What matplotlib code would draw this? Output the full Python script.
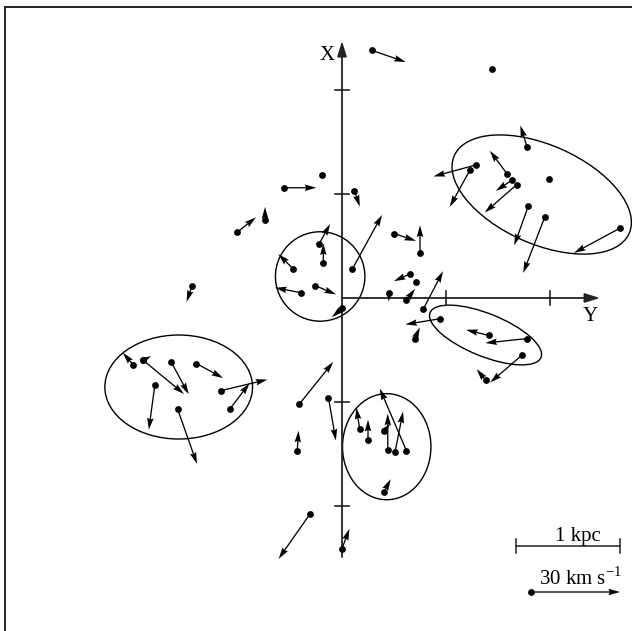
import numpy as np
import matplotlib
matplotlib.use("Agg")
import matplotlib.pyplot as plt
from matplotlib.patches import Ellipse

plt.rcParams['font.family'] = 'serif'
plt.rcParams['font.serif'] = ['Liberation Serif', 'DejaVu Serif']
plt.rcParams['mathtext.fontset'] = 'custom'
plt.rcParams['mathtext.rm'] = 'Liberation Serif'

# star positions in kpc (horizontal = Y, vertical = X) and velocities in km/s
pos_y = [0.29, 1.44, 1.78, 1.29, 1.23, 1.59, 1.63, 1.68, 1.99, 1.79,
         1.95, 2.67, -0.19, -0.56, 0.12, -0.74, -1.01, -1.44, -0.18, -0.22,
         -0.47, -0.39, -0.26, 0.00, 0.10, 0.50, 0.75, 0.65, 0.71, 0.62,
         0.45, 0.78, 0.94, 0.70, 1.41, 1.78, 1.73, 1.38, -2.01, -1.91,
         -1.91, -1.64, -1.40, -1.80, -1.16, -1.08, -1.58, -0.41, -0.43, -0.31,
         -0.13, 0.17, 0.25, 0.40, 0.44, 0.51, 0.62, 0.40, 0.00]
pos_x = [2.38, 2.20, 1.45, 1.28, 1.23, 1.19, 1.13, 1.09, 1.14, 0.88,
         0.78, 0.67, 1.18, 1.06, 1.03, 0.75, 0.63, 0.12, 0.34, 0.52,
         0.28, 0.05, 0.12, -0.10, 0.28, 0.62, 0.43, 0.23, 0.15, -0.02,
         0.05, -0.11, -0.20, -0.39, -0.36, -0.39, -0.55, -0.79, -0.64, -0.60,
         -0.60, -0.62, -0.63, -0.84, -0.89, -1.07, -1.07, -1.02, -1.47, -2.08,
         -0.96, -1.26, -1.37, -1.28, -1.46, -1.48, -1.47, -1.87, -2.41]
vel_y = [11.3, 0.0, -2.3, -14.4, -6.8, -5.9, -5.3, -10.8, 0.0, -4.7,
         -7.3, -15.4, 0.0, 11.0, 1.8, 0.0, 6.4, -1.9, 0.0, 3.7,
         -5.0, -8.9, 7.1, -3.4, 10.0, 7.4, 0.0, -5.3, 0.0, 2.9,
         0.0, 6.7, -11.6, 1.7, -7.6, -14.1, -10.7, -3.0, -3.4, 2.6,
         13.7, 5.8, 9.0, -2.0, 15.5, 6.7, 6.5, 11.4, 0.4, -10.5,
         2.5, -1.1, 0.0, 2.3, 0.0, 2.7, -9.0, 2.4, 2.5]
vel_x = [-3.9, 0.0, 7.3, -3.9, -12.4, 7.9, -3.5, -9.4, 0.0, -13.1,
         -18.9, -8.3, 0.0, 0.0, -5.3, 4.4, 5.1, -5.5, 6.5, 6.7,
         5.0, 1.7, -3.0, -3.0, 18.2, -2.5, 9.4, -2.4, 0.0, 3.8,
         -3.0, 12.9, -1.9, 3.8, 1.9, -1.5, -9.2, 3.7, 4.0, 1.5,
         -11.3, -10.7, -4.9, -14.9, 3.7, 8.8, -18.4, 14.2, 6.8, -15.0,
         -14.4, 7.2, 7.0, 2.5, 12.2, 13.6, 21.0, 4.5, 6.7]

# group outlines: centre (Y, X), width, height, angle
groups = [((1.92, 0.995), 1.84, 0.95, -24),
          ((-0.21, 0.207), 0.86, 0.86, 0),
          ((-1.57, -0.856), 1.42, 1.00, 0),
          ((0.43, -1.43), 0.85, 1.02, 0),
          ((1.38, -0.356), 1.15, 0.41, -22)]

axis_ticks = [-2, -1, 1, 2]
kms_per_kpc = 30 / 0.856   # length of the 30 km/s reference arrow

fig = plt.figure(figsize=(6.32, 6.31), dpi=100)
ax = fig.add_axes([5 / 632, 0, 627 / 632, 624 / 631])
ax.set_xlim(-3.240, 2.788)
ax.set_ylim(-3.202, 2.798)
ax.set_xticks([])
ax.set_yticks([])
for side in ['right', 'bottom']:
    ax.spines[side].set_visible(False)
for side in ['left', 'top']:
    ax.spines[side].set_linewidth(1.4)
    ax.spines[side].set_color('#222222')

# coordinate axes
axcol = '#222222'
ax.annotate('', xy=(0, 2.47), xytext=(0, -2.49),
            arrowprops=dict(arrowstyle='-|>,head_length=0.9,head_width=0.28',
                            lw=1.3, color=axcol, shrinkA=0, shrinkB=0))
ax.annotate('', xy=(2.48, 0), xytext=(0, 0),
            arrowprops=dict(arrowstyle='-|>,head_length=0.9,head_width=0.28',
                            lw=1.3, color=axcol, shrinkA=0, shrinkB=0))
for t in axis_ticks:
    ax.plot([-0.072, 0.072], [t, t], color=axcol, lw=1.2)
for t in [1, 2]:
    ax.plot([t, t], [-0.068, 0.068], color=axcol, lw=1.2)
ax.text(-0.14, 2.327, 'X', fontsize=15, ha='center', va='center')
ax.text(2.39, -0.178, 'Y', fontsize=15, ha='center', va='center')

for (c, w, h, a) in groups:
    ax.add_patch(Ellipse(c, w, h, angle=a, fill=False, lw=1.0, color='black'))

pos_y = np.array(pos_y)
pos_x = np.array(pos_x)
vel_y = np.array(vel_y)
vel_x = np.array(vel_x)
moving = np.hypot(vel_y, vel_x) > 0

ax.scatter(pos_y, pos_x, s=24, color='black', zorder=3, linewidths=0)
ax.quiver(pos_y[moving], pos_x[moving], vel_y[moving], vel_x[moving],
          angles='xy', scale_units='xy', scale=kms_per_kpc,
          units='dots', width=1.3, headwidth=5, headlength=9,
          headaxislength=8, color='black', zorder=3)

# scale bars
ax.plot([1.673, 2.673], [-2.385, -2.385], color=axcol, lw=1.1)
for e in [1.673, 2.673]:
    ax.plot([e, e], [-2.452, -2.318], color=axcol, lw=1.1)
ax.text(2.269, -2.337, '1 kpc', fontsize=15, ha='center', va='baseline')

ax.scatter([1.817], [-2.827], s=24, color='black', zorder=3, linewidths=0)
ax.quiver([1.817], [-2.827], [30], [0], angles='xy', scale_units='xy',
          scale=kms_per_kpc, units='dots', width=1.3, headwidth=5,
          headlength=9, headaxislength=8, color='black', zorder=3)
ax.text(1.891, -2.757, '30 km s$^{\\mathrm{-1}}$', fontsize=15,
        ha='left', va='baseline')

fig.savefig('out.png', dpi=100)
